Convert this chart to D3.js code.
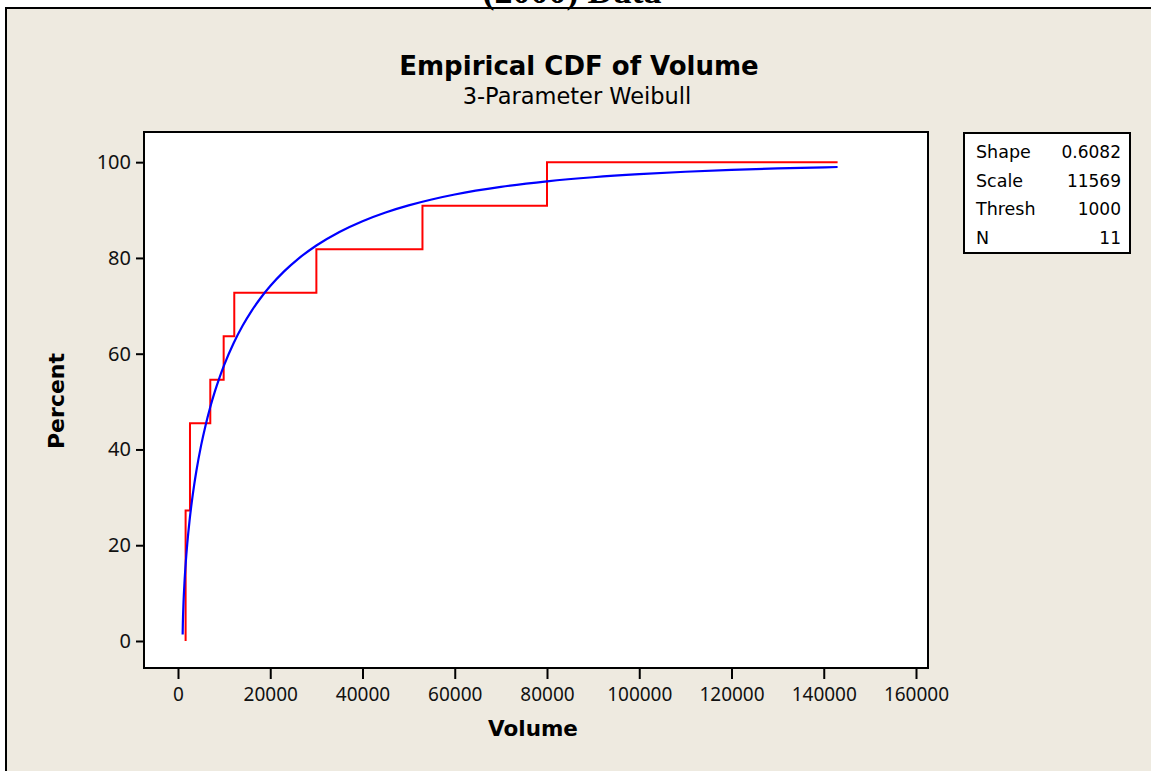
<!DOCTYPE html>
<html>
<head>
<meta charset="utf-8">
<script src="https://cdn.jsdelivr.net/npm/d3@7"></script>
<style>
  html, body { margin: 0; padding: 0; background: #ffffff; }
  svg { display: block; }
</style>
</head>
<body>
<svg id="chart" width="1151" height="771"></svg>
<script>
// ---- data ----
const volumes = [1650, 1650, 1650, 2600, 2600, 7000, 9900, 12200, 30000, 53000, 80000];
const curveEnd = 143000;
// fitted 3-parameter Weibull CDF (Volume, Percent)
const fitVolume = [1010, 1050, 1100, 1200, 1400, 1700, 2000, 2500, 3000, 3500, 4000, 5000, 6000, 7000, 8000,
  9000, 10000, 12000, 14000, 16000, 18000, 20000, 23000, 26000, 30000, 35000, 40000, 45000, 50000,
  55000, 60000, 70000, 80000, 90000, 100000, 110000, 120000, 130000, 143000];
const fitPercent = [1.36, 3.58, 5.41, 8.13, 12.12, 16.61, 20.20, 25.08, 29.10, 32.55, 35.60, 40.80, 45.13, 48.87, 52.13,
  55.02, 57.62, 62.08, 65.82, 69.00, 71.74, 74.13, 77.20, 79.77, 82.60, 85.43, 87.68, 89.50, 90.98,
  92.21, 93.24, 94.83, 95.99, 96.85, 97.50, 98.00, 98.39, 98.69, 98.99];
const xTicks = [0, 20000, 40000, 60000, 80000, 100000, 120000, 140000, 160000];
const yTicks = [0, 20, 40, 60, 80, 100];
const legendLabels = ["Shape", "Scale", "Thresh", "N"];
const legendValues = ["0.6082", "11569", "1000", "11"];

// ---- layout ----
const svg = d3.select("#chart");
const plot = {left: 144, right: 928, top: 132, bottom: 668};

// outer beige panel
svg.append("rect").attr("x", 6).attr("y", 8).attr("width", 1160).attr("height", 780)
  .attr("fill", "#EEEAE0").attr("stroke", "#000").attr("stroke-width", 2);

// partially cut heading above the panel
svg.append("text").attr("x", 572).attr("y", 3).attr("text-anchor", "middle")
  .attr("font-family", "Liberation Serif").attr("font-weight", "bold").attr("font-size", 36)
  .text("(2000) Data");
svg.append("line").attr("x1", 6).attr("x2", 1151).attr("y1", 8).attr("y2", 8)
  .attr("stroke", "#000").attr("stroke-width", 2);

const x = d3.scaleLinear().domain([-7371, 162602]).range([plot.left, plot.right]);
const y = d3.scaleLinear().domain([-5.64, 106.3]).range([plot.bottom, plot.top]);

svg.append("rect").attr("x", plot.left).attr("y", plot.top)
  .attr("width", plot.right - plot.left).attr("height", plot.bottom - plot.top)
  .attr("fill", "#fff").attr("stroke", "#000").attr("stroke-width", 2);

const tickFont = "Noto Sans";

// x axis
const xAxis = svg.append("g").attr("transform", `translate(0,${plot.bottom})`)
  .call(d3.axisBottom(x).tickValues(xTicks).tickSize(11).tickPadding(9).tickFormat(d3.format("d")));
xAxis.select(".domain").remove();
xAxis.selectAll(".tick line").attr("stroke", "#000").attr("stroke-width", 2);
xAxis.selectAll(".tick text").attr("font-family", tickFont).attr("font-size", 19).attr("fill", "#111");

// y axis
const yAxis = svg.append("g").attr("transform", `translate(${plot.left},0)`)
  .call(d3.axisLeft(y).tickValues(yTicks).tickSize(8).tickPadding(5));
yAxis.select(".domain").remove();
yAxis.selectAll(".tick line").attr("stroke", "#000").attr("stroke-width", 2);
yAxis.selectAll(".tick text").attr("font-family", tickFont).attr("font-size", 20).attr("fill", "#111");

// empirical CDF (step)
const sorted = volumes.slice().sort((a, b) => a - b);
const N = sorted.length;
const stepPts = [[sorted[0], 0]];
sorted.forEach((v, i) => {
  const pct = (i + 1) / N * 100;
  if (i < N - 1 && sorted[i + 1] === v) return;
  stepPts.push([v, pct]);
});
stepPts.push([curveEnd, 100]);
const stepLine = d3.line().x(d => x(d[0])).y(d => y(d[1])).curve(d3.curveStepAfter);
svg.append("path").datum(stepPts).attr("d", stepLine)
  .attr("fill", "none").attr("stroke", "#FF0000").attr("stroke-width", 2);

// fitted curve
const fitPts = fitVolume.map((v, i) => [v, fitPercent[i]]);
const fitLine = d3.line().x(d => x(d[0])).y(d => y(d[1])).curve(d3.curveMonotoneX);
svg.append("path").datum(fitPts).attr("d", fitLine)
  .attr("fill", "none").attr("stroke", "#0000FF").attr("stroke-width", 2.2);

// titles
svg.append("text").attr("x", 579).attr("y", 75).attr("text-anchor", "middle")
  .attr("font-family", "DejaVu Sans").attr("font-weight", "bold").attr("font-size", 26)
  .text("Empirical CDF of Volume");
svg.append("text").attr("x", 577).attr("y", 104).attr("text-anchor", "middle")
  .attr("font-family", "DejaVu Sans").attr("font-size", 22.5)
  .text("3-Parameter Weibull");
svg.append("text").attr("x", 533).attr("y", 736).attr("text-anchor", "middle")
  .attr("font-family", "DejaVu Sans").attr("font-weight", "bold").attr("font-size", 21.5)
  .text("Volume");
svg.append("text").attr("transform", "translate(64,401) rotate(-90)").attr("text-anchor", "middle")
  .attr("font-family", "DejaVu Sans").attr("font-weight", "bold").attr("font-size", 22)
  .text("Percent");

// legend box
const lg = svg.append("g");
lg.append("rect").attr("x", 964).attr("y", 133).attr("width", 166).attr("height", 120)
  .attr("fill", "#fff").attr("stroke", "#000").attr("stroke-width", 2);
legendLabels.forEach((lab, i) => {
  const yy = 158 + i * 28.7;
  lg.append("text").attr("x", 976).attr("y", yy)
    .attr("font-family", "DejaVu Sans").attr("font-size", 17.5).text(lab);
  lg.append("text").attr("x", 1121).attr("y", yy).attr("text-anchor", "end")
    .attr("font-family", "DejaVu Sans").attr("font-size", 17).text(legendValues[i]);
});
</script>
</body>
</html>
